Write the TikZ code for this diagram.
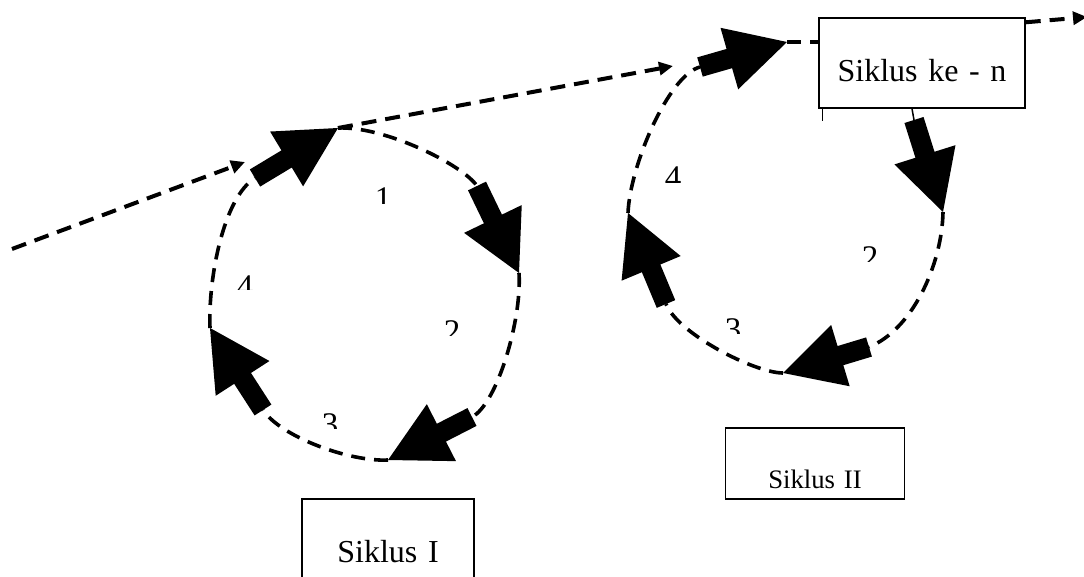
\documentclass[tikz,border=0pt]{standalone}
\usepackage{fontspec}
\setmainfont{Liberation Serif}
\usetikzlibrary{calc,arrows.meta}

% thick block arrow from tail #1 to tip #2
\newcommand\blockarrow[2]{%
  \coordinate (#2h) at ($(#2)!60pt!(#1)$);
  \fill ($(#1)!10pt!90:(#2)$) -- ($(#2h)!10pt!90:(#2)$) -- ($(#2h)!32pt!90:(#2)$) -- (#2)
    -- ($(#2h)!32pt!-90:(#2)$) -- ($(#2h)!10pt!-90:(#2)$) -- ($(#1)!10pt!-90:(#2)$) -- cycle;}

% step number, cut off below by its text frame
\newcommand\stepnum[5]{%
  \begin{scope}
    \clip (#2-30,#3-40) rectangle (#2+30,#5);
    \node[digit] (#1) at (#2,#3) {#4};
  \end{scope}}

\begin{document}
\begin{tikzpicture}[x=1pt,y=-1pt,
  box/.style={draw, line width=1.4pt, fill=white, inner sep=0pt, anchor=base, align=center},
  ring/.style={line width=3.6pt, dash pattern=on 14pt off 9pt},
  track/.style={line width=4pt, dash pattern=on 15pt off 9pt, -{Triangle[length=14pt,width=13pt]}},
  digit/.style={inner sep=0pt, anchor=base, font=\fontsize{33}{38}\selectfont}]

\useasboundingbox (0,0) rectangle (1084,577);

% end points
\coordinate (l1s) at (12,249);
\coordinate (l1e) at (245,162);
\coordinate (l2e) at (673,66);
\coordinate (knout) at (1087,17);

\coordinate (a1t) at (255,178); \coordinate (a1p) at (338,128);
\coordinate (a2t) at (477,186); \coordinate (a2p) at (519,273);
\coordinate (a3t) at (472,417); \coordinate (a3p) at (388,460);
\coordinate (a4t) at (263,410); \coordinate (a4p) at (210,328);

\coordinate (b1t) at (700,67);  \coordinate (b1p) at (787,42);
\coordinate (b2t) at (914,120); \coordinate (b2p) at (943,212);
\coordinate (b3t) at (869,347); \coordinate (b3p) at (783,373);
\coordinate (b4t) at (666,304); \coordinate (b4p) at (628,213);

% straight tracks
\draw[track] (l1s) -- (l1e);
\draw[track] (a1p) -- (l2e);

% first cycle
\draw[ring] (a1p) .. controls (385,126) and (463,165) .. (a2t);
\draw[ring] (a2p) .. controls (522,320) and (497,404) .. (a3t);
\draw[ring] (a3p) .. controls (350,462) and (281,437) .. (a4t);
\draw[ring] (a4p) .. controls (208,280) and (223,198) .. (a1t);

% second cycle
\draw[ring] (b2p) .. controls (942,265) and (912,330) .. (b3t);
\draw[ring] (b3p) .. controls (755,373) and (678,334) .. (b4t);
\draw[ring] (b4p) .. controls (630,165) and (669,75) .. (b1t);

\blockarrow{a1t}{a1p}
\blockarrow{a2t}{a2p}
\blockarrow{a3t}{a3p}
\blockarrow{a4t}{a4p}
\blockarrow{b1t}{b1p}
\blockarrow{b2t}{b2p}
\blockarrow{b3t}{b3p}
\blockarrow{b4t}{b4p}

% step numbers
\stepnum{n11}{383}{210}{1}{204}
\stepnum{n14}{245}{298}{4}{290}
\stepnum{n12}{452}{342}{2}{335}
\stepnum{n13}{330}{435}{3}{428}
\stepnum{n24}{673}{189}{4}{183}
\stepnum{n22}{870}{269}{2}{262}
\stepnum{n23}{733}{340}{3}{333}

% captions
\node[box, text width=206pt, text height=64pt, text depth=26pt,
      font=\fontsize{32}{38}\selectfont] (kn) at (922,82) {Siklus ke - n};
\node[box, text width=179pt, text height=60pt, text depth=11pt,
      font=\fontsize{26.7}{32}\selectfont] (s2) at (815,488) {Siklus II};
\node[box, text width=172pt, text height=63pt, text depth=30pt,
      font=\fontsize{32}{38}\selectfont] (s1) at (388,562) {Siklus I};

\draw[ring] (b1p) -- (b1p -| kn.west);
\draw[track] ($(kn.north east)+(0,5)$) -- (knout);
\draw[line width=1.5pt] ($(kn.south)+(-10,0)$) -- (b2t);
\draw[line width=1.5pt] ($(kn.south west)+(4,0)$) -- ++(0,12);

\end{tikzpicture}
\end{document}
